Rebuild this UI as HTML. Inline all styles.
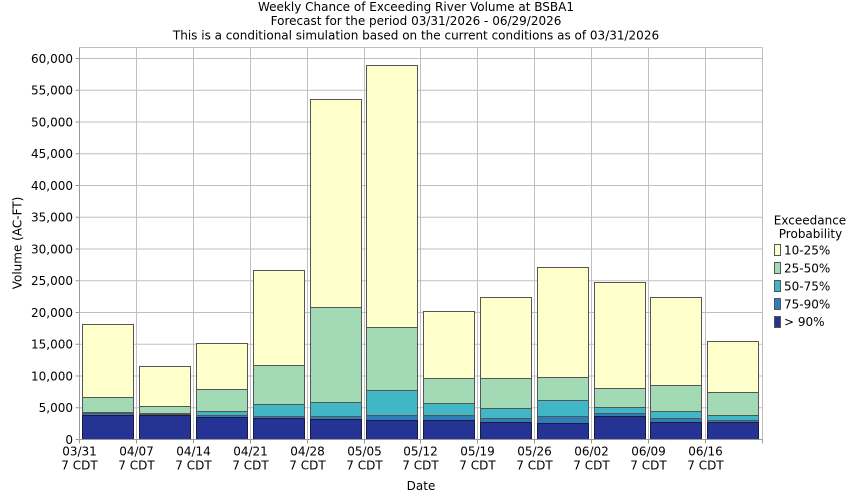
<!DOCTYPE html>
<html><head><meta charset="utf-8"><style>
html,body{margin:0;padding:0;background:#fff;}
svg{display:block;}
text{font-family:"DejaVu Sans","Liberation Sans",sans-serif;font-size:12px;fill:#000;}
</style></head><body>
<svg width="850" height="500" viewBox="0 0 850 500" xmlns="http://www.w3.org/2000/svg">
<rect x="0" y="0" width="850" height="500" fill="#fff"/>
<!-- titles -->
<text x="416" y="11" text-anchor="middle">Weekly Chance of Exceeding River Volume at BSBA1</text>
<text x="416" y="25" text-anchor="middle">Forecast for the period 03/31/2026 - 06/29/2026</text>
<text x="416" y="39.5" text-anchor="middle">This is a conditional simulation based on the current conditions as of 03/31/2026</text>

<!-- grid -->
<g stroke="#c0c0c0" stroke-width="1" fill="none">
<line x1="79.5" y1="47.5" x2="762.5" y2="47.5"/>
<line x1="79.5" y1="58.5" x2="762.5" y2="58.5"/>
<line x1="79.5" y1="90.25" x2="762.5" y2="90.25"/>
<line x1="79.5" y1="122" x2="762.5" y2="122"/>
<line x1="79.5" y1="153.75" x2="762.5" y2="153.75"/>
<line x1="79.5" y1="185.5" x2="762.5" y2="185.5"/>
<line x1="79.5" y1="217.25" x2="762.5" y2="217.25"/>
<line x1="79.5" y1="249" x2="762.5" y2="249"/>
<line x1="79.5" y1="280.75" x2="762.5" y2="280.75"/>
<line x1="79.5" y1="312.5" x2="762.5" y2="312.5"/>
<line x1="79.5" y1="344.25" x2="762.5" y2="344.25"/>
<line x1="79.5" y1="376" x2="762.5" y2="376"/>
<line x1="79.5" y1="407.75" x2="762.5" y2="407.75"/>
<line x1="136.5" y1="47.5" x2="136.5" y2="439.5"/>
<line x1="193.5" y1="47.5" x2="193.5" y2="439.5"/>
<line x1="250.5" y1="47.5" x2="250.5" y2="439.5"/>
<line x1="307.5" y1="47.5" x2="307.5" y2="439.5"/>
<line x1="364.5" y1="47.5" x2="364.5" y2="439.5"/>
<line x1="420.5" y1="47.5" x2="420.5" y2="439.5"/>
<line x1="477.5" y1="47.5" x2="477.5" y2="439.5"/>
<line x1="534.5" y1="47.5" x2="534.5" y2="439.5"/>
<line x1="591.5" y1="47.5" x2="591.5" y2="439.5"/>
<line x1="648.5" y1="47.5" x2="648.5" y2="439.5"/>
<line x1="705.5" y1="47.5" x2="705.5" y2="439.5"/>
<line x1="762.5" y1="47.5" x2="762.5" y2="439.5"/>
</g>

<!-- bars -->
<g stroke="#555" stroke-width="1">
<!-- bar1 -->
<rect x="82.5" y="324.5" width="51" height="73" fill="#ffffcc"/>
<rect x="82.5" y="397.5" width="51" height="15" fill="#a1dab4"/>
<rect x="82.5" y="412.5" width="51" height="1" fill="#41b6c4"/>
<rect x="82.5" y="413.5" width="51" height="2" fill="#2c7fb8"/>
<rect x="82.5" y="415.5" width="51" height="24" fill="#253494" stroke="#1a1a3a"/>
<!-- bar2 -->
<rect x="139.5" y="366.5" width="51" height="40" fill="#ffffcc"/>
<rect x="139.5" y="406.5" width="51" height="7" fill="#a1dab4"/>
<rect x="139.5" y="413.5" width="51" height="1" fill="#41b6c4"/>
<rect x="139.5" y="414.5" width="51" height="1" fill="#2c7fb8"/>
<rect x="139.5" y="415.5" width="51" height="24" fill="#253494" stroke="#1a1a3a"/>
<!-- bar3 -->
<rect x="196.5" y="343.5" width="51" height="46" fill="#ffffcc"/>
<rect x="196.5" y="389.5" width="51" height="22" fill="#a1dab4"/>
<rect x="196.5" y="411.5" width="51" height="4" fill="#41b6c4"/>
<rect x="196.5" y="415.5" width="51" height="2" fill="#2c7fb8"/>
<rect x="196.5" y="417.5" width="51" height="22" fill="#253494" stroke="#1a1a3a"/>
<!-- bar4 -->
<rect x="253.5" y="270.5" width="51" height="95" fill="#ffffcc"/>
<rect x="253.5" y="365.5" width="51" height="39" fill="#a1dab4"/>
<rect x="253.5" y="404.5" width="51" height="12" fill="#41b6c4"/>
<rect x="253.5" y="416.5" width="51" height="2" fill="#2c7fb8"/>
<rect x="253.5" y="418.5" width="51" height="21" fill="#253494" stroke="#1a1a3a"/>
<!-- bar5 -->
<rect x="310.5" y="99.5" width="51" height="208" fill="#ffffcc"/>
<rect x="310.5" y="307.5" width="51" height="95" fill="#a1dab4"/>
<rect x="310.5" y="402.5" width="51" height="14" fill="#41b6c4"/>
<rect x="310.5" y="416.5" width="51" height="3" fill="#2c7fb8"/>
<rect x="310.5" y="419.5" width="51" height="20" fill="#253494" stroke="#1a1a3a"/>
<!-- bar6 -->
<rect x="366.5" y="65.5" width="51" height="262" fill="#ffffcc"/>
<rect x="366.5" y="327.5" width="51" height="63" fill="#a1dab4"/>
<rect x="366.5" y="390.5" width="51" height="25" fill="#41b6c4"/>
<rect x="366.5" y="415.5" width="51" height="5" fill="#2c7fb8"/>
<rect x="366.5" y="420.5" width="51" height="19" fill="#253494" stroke="#1a1a3a"/>
<!-- bar7 -->
<rect x="423.5" y="311.5" width="51" height="67" fill="#ffffcc"/>
<rect x="423.5" y="378.5" width="51" height="25" fill="#a1dab4"/>
<rect x="423.5" y="403.5" width="51" height="12" fill="#41b6c4"/>
<rect x="423.5" y="415.5" width="51" height="5" fill="#2c7fb8"/>
<rect x="423.5" y="420.5" width="51" height="19" fill="#253494" stroke="#1a1a3a"/>
<!-- bar8 -->
<rect x="480.5" y="297.5" width="51" height="81" fill="#ffffcc"/>
<rect x="480.5" y="378.5" width="51" height="30" fill="#a1dab4"/>
<rect x="480.5" y="408.5" width="51" height="10" fill="#41b6c4"/>
<rect x="480.5" y="418.5" width="51" height="4" fill="#2c7fb8"/>
<rect x="480.5" y="422.5" width="51" height="17" fill="#253494" stroke="#1a1a3a"/>
<!-- bar9 -->
<rect x="537.5" y="267.5" width="51" height="110" fill="#ffffcc"/>
<rect x="537.5" y="377.5" width="51" height="23" fill="#a1dab4"/>
<rect x="537.5" y="400.5" width="51" height="16" fill="#41b6c4"/>
<rect x="537.5" y="416.5" width="51" height="7" fill="#2c7fb8"/>
<rect x="537.5" y="423.5" width="51" height="16" fill="#253494" stroke="#1a1a3a"/>
<!-- bar10 -->
<rect x="594.5" y="282.5" width="51" height="106" fill="#ffffcc"/>
<rect x="594.5" y="388.5" width="51" height="19" fill="#a1dab4"/>
<rect x="594.5" y="407.5" width="51" height="6" fill="#41b6c4"/>
<rect x="594.5" y="413.5" width="51" height="3" fill="#2c7fb8"/>
<rect x="594.5" y="416.5" width="51" height="23" fill="#253494" stroke="#1a1a3a"/>
<!-- bar11 -->
<rect x="650.5" y="297.5" width="51" height="88" fill="#ffffcc"/>
<rect x="650.5" y="385.5" width="51" height="26" fill="#a1dab4"/>
<rect x="650.5" y="411.5" width="51" height="7" fill="#41b6c4"/>
<rect x="650.5" y="418.5" width="51" height="4" fill="#2c7fb8"/>
<rect x="650.5" y="422.5" width="51" height="17" fill="#253494" stroke="#1a1a3a"/>
<!-- bar12 -->
<rect x="707.5" y="341.5" width="51" height="51" fill="#ffffcc"/>
<rect x="707.5" y="392.5" width="51" height="23" fill="#a1dab4"/>
<rect x="707.5" y="415.5" width="51" height="5" fill="#41b6c4"/>
<rect x="707.5" y="420.5" width="51" height="2" fill="#2c7fb8"/>
<rect x="707.5" y="422.5" width="51" height="17" fill="#253494" stroke="#1a1a3a"/>
</g>

<!-- axes -->
<g stroke="#999" stroke-width="1">
<line x1="79.5" y1="47.5" x2="79.5" y2="439.5"/>
<line x1="79.5" y1="439.5" x2="762.5" y2="439.5"/>
<!-- y ticks -->
<line x1="75.5" y1="58.5" x2="79.5" y2="58.5"/>
<line x1="75.5" y1="90.25" x2="79.5" y2="90.25"/>
<line x1="75.5" y1="122" x2="79.5" y2="122"/>
<line x1="75.5" y1="153.75" x2="79.5" y2="153.75"/>
<line x1="75.5" y1="185.5" x2="79.5" y2="185.5"/>
<line x1="75.5" y1="217.25" x2="79.5" y2="217.25"/>
<line x1="75.5" y1="249" x2="79.5" y2="249"/>
<line x1="75.5" y1="280.75" x2="79.5" y2="280.75"/>
<line x1="75.5" y1="312.5" x2="79.5" y2="312.5"/>
<line x1="75.5" y1="344.25" x2="79.5" y2="344.25"/>
<line x1="75.5" y1="376" x2="79.5" y2="376"/>
<line x1="75.5" y1="407.75" x2="79.5" y2="407.75"/>
<line x1="75.5" y1="439.5" x2="79.5" y2="439.5"/>
<!-- x ticks -->
<line x1="79.5" y1="439.5" x2="79.5" y2="443.5"/>
<line x1="136.5" y1="439.5" x2="136.5" y2="443.5"/>
<line x1="193.5" y1="439.5" x2="193.5" y2="443.5"/>
<line x1="250.5" y1="439.5" x2="250.5" y2="443.5"/>
<line x1="307.5" y1="439.5" x2="307.5" y2="443.5"/>
<line x1="364.5" y1="439.5" x2="364.5" y2="443.5"/>
<line x1="420.5" y1="439.5" x2="420.5" y2="443.5"/>
<line x1="477.5" y1="439.5" x2="477.5" y2="443.5"/>
<line x1="534.5" y1="439.5" x2="534.5" y2="443.5"/>
<line x1="591.5" y1="439.5" x2="591.5" y2="443.5"/>
<line x1="648.5" y1="439.5" x2="648.5" y2="443.5"/>
<line x1="705.5" y1="439.5" x2="705.5" y2="443.5"/>
<line x1="762.5" y1="439.5" x2="762.5" y2="443.5"/>
</g>

<!-- y tick labels -->
<g text-anchor="end">
<text x="73" y="62.9">60,000</text>
<text x="73" y="94.6">55,000</text>
<text x="73" y="126.4">50,000</text>
<text x="73" y="158.1">45,000</text>
<text x="73" y="189.9">40,000</text>
<text x="73" y="221.6">35,000</text>
<text x="73" y="253.4">30,000</text>
<text x="73" y="285.1">25,000</text>
<text x="73" y="316.9">20,000</text>
<text x="73" y="348.6">15,000</text>
<text x="73" y="380.4">10,000</text>
<text x="73" y="412.1">5,000</text>
<text x="73" y="443.9">0</text>
</g>

<!-- x tick labels -->
<g text-anchor="middle">
<text x="79.5" y="455.5">03/31</text><text x="79.5" y="469.5">7 CDT</text>
<text x="136.5" y="455.5">04/07</text><text x="136.5" y="469.5">7 CDT</text>
<text x="193.5" y="455.5">04/14</text><text x="193.5" y="469.5">7 CDT</text>
<text x="250.5" y="455.5">04/21</text><text x="250.5" y="469.5">7 CDT</text>
<text x="307.5" y="455.5">04/28</text><text x="307.5" y="469.5">7 CDT</text>
<text x="364.5" y="455.5">05/05</text><text x="364.5" y="469.5">7 CDT</text>
<text x="420.5" y="455.5">05/12</text><text x="420.5" y="469.5">7 CDT</text>
<text x="477.5" y="455.5">05/19</text><text x="477.5" y="469.5">7 CDT</text>
<text x="534.5" y="455.5">05/26</text><text x="534.5" y="469.5">7 CDT</text>
<text x="591.5" y="455.5">06/02</text><text x="591.5" y="469.5">7 CDT</text>
<text x="648.5" y="455.5">06/09</text><text x="648.5" y="469.5">7 CDT</text>
<text x="705.5" y="455.5">06/16</text><text x="705.5" y="469.5">7 CDT</text>
</g>

<!-- axis titles -->
<text x="421" y="490" text-anchor="middle">Date</text>
<text x="0" y="0" text-anchor="middle" transform="translate(21.5,243) rotate(-90)">Volume (AC-FT)</text>

<!-- legend -->
<text x="810" y="224.5" text-anchor="middle">Exceedance</text>
<text x="810.5" y="238" text-anchor="middle">Probability</text>
<g stroke="#555" stroke-width="1">
<rect x="774.5" y="244.5" width="6" height="11" fill="#ffffcc"/>
<rect x="774.5" y="262.5" width="6" height="11" fill="#a1dab4"/>
<rect x="774.5" y="280.5" width="6" height="11" fill="#41b6c4"/>
<rect x="774.5" y="298.5" width="6" height="11" fill="#2c7fb8"/>
<rect x="774.5" y="316.5" width="6" height="11" fill="#253494"/>
</g>
<text x="784" y="254.4">10-25%</text>
<text x="784" y="272.4">25-50%</text>
<text x="784" y="290.4">50-75%</text>
<text x="784" y="308.4">75-90%</text>
<text x="784" y="326.1">&gt; 90%</text>
</svg>
</body></html>
